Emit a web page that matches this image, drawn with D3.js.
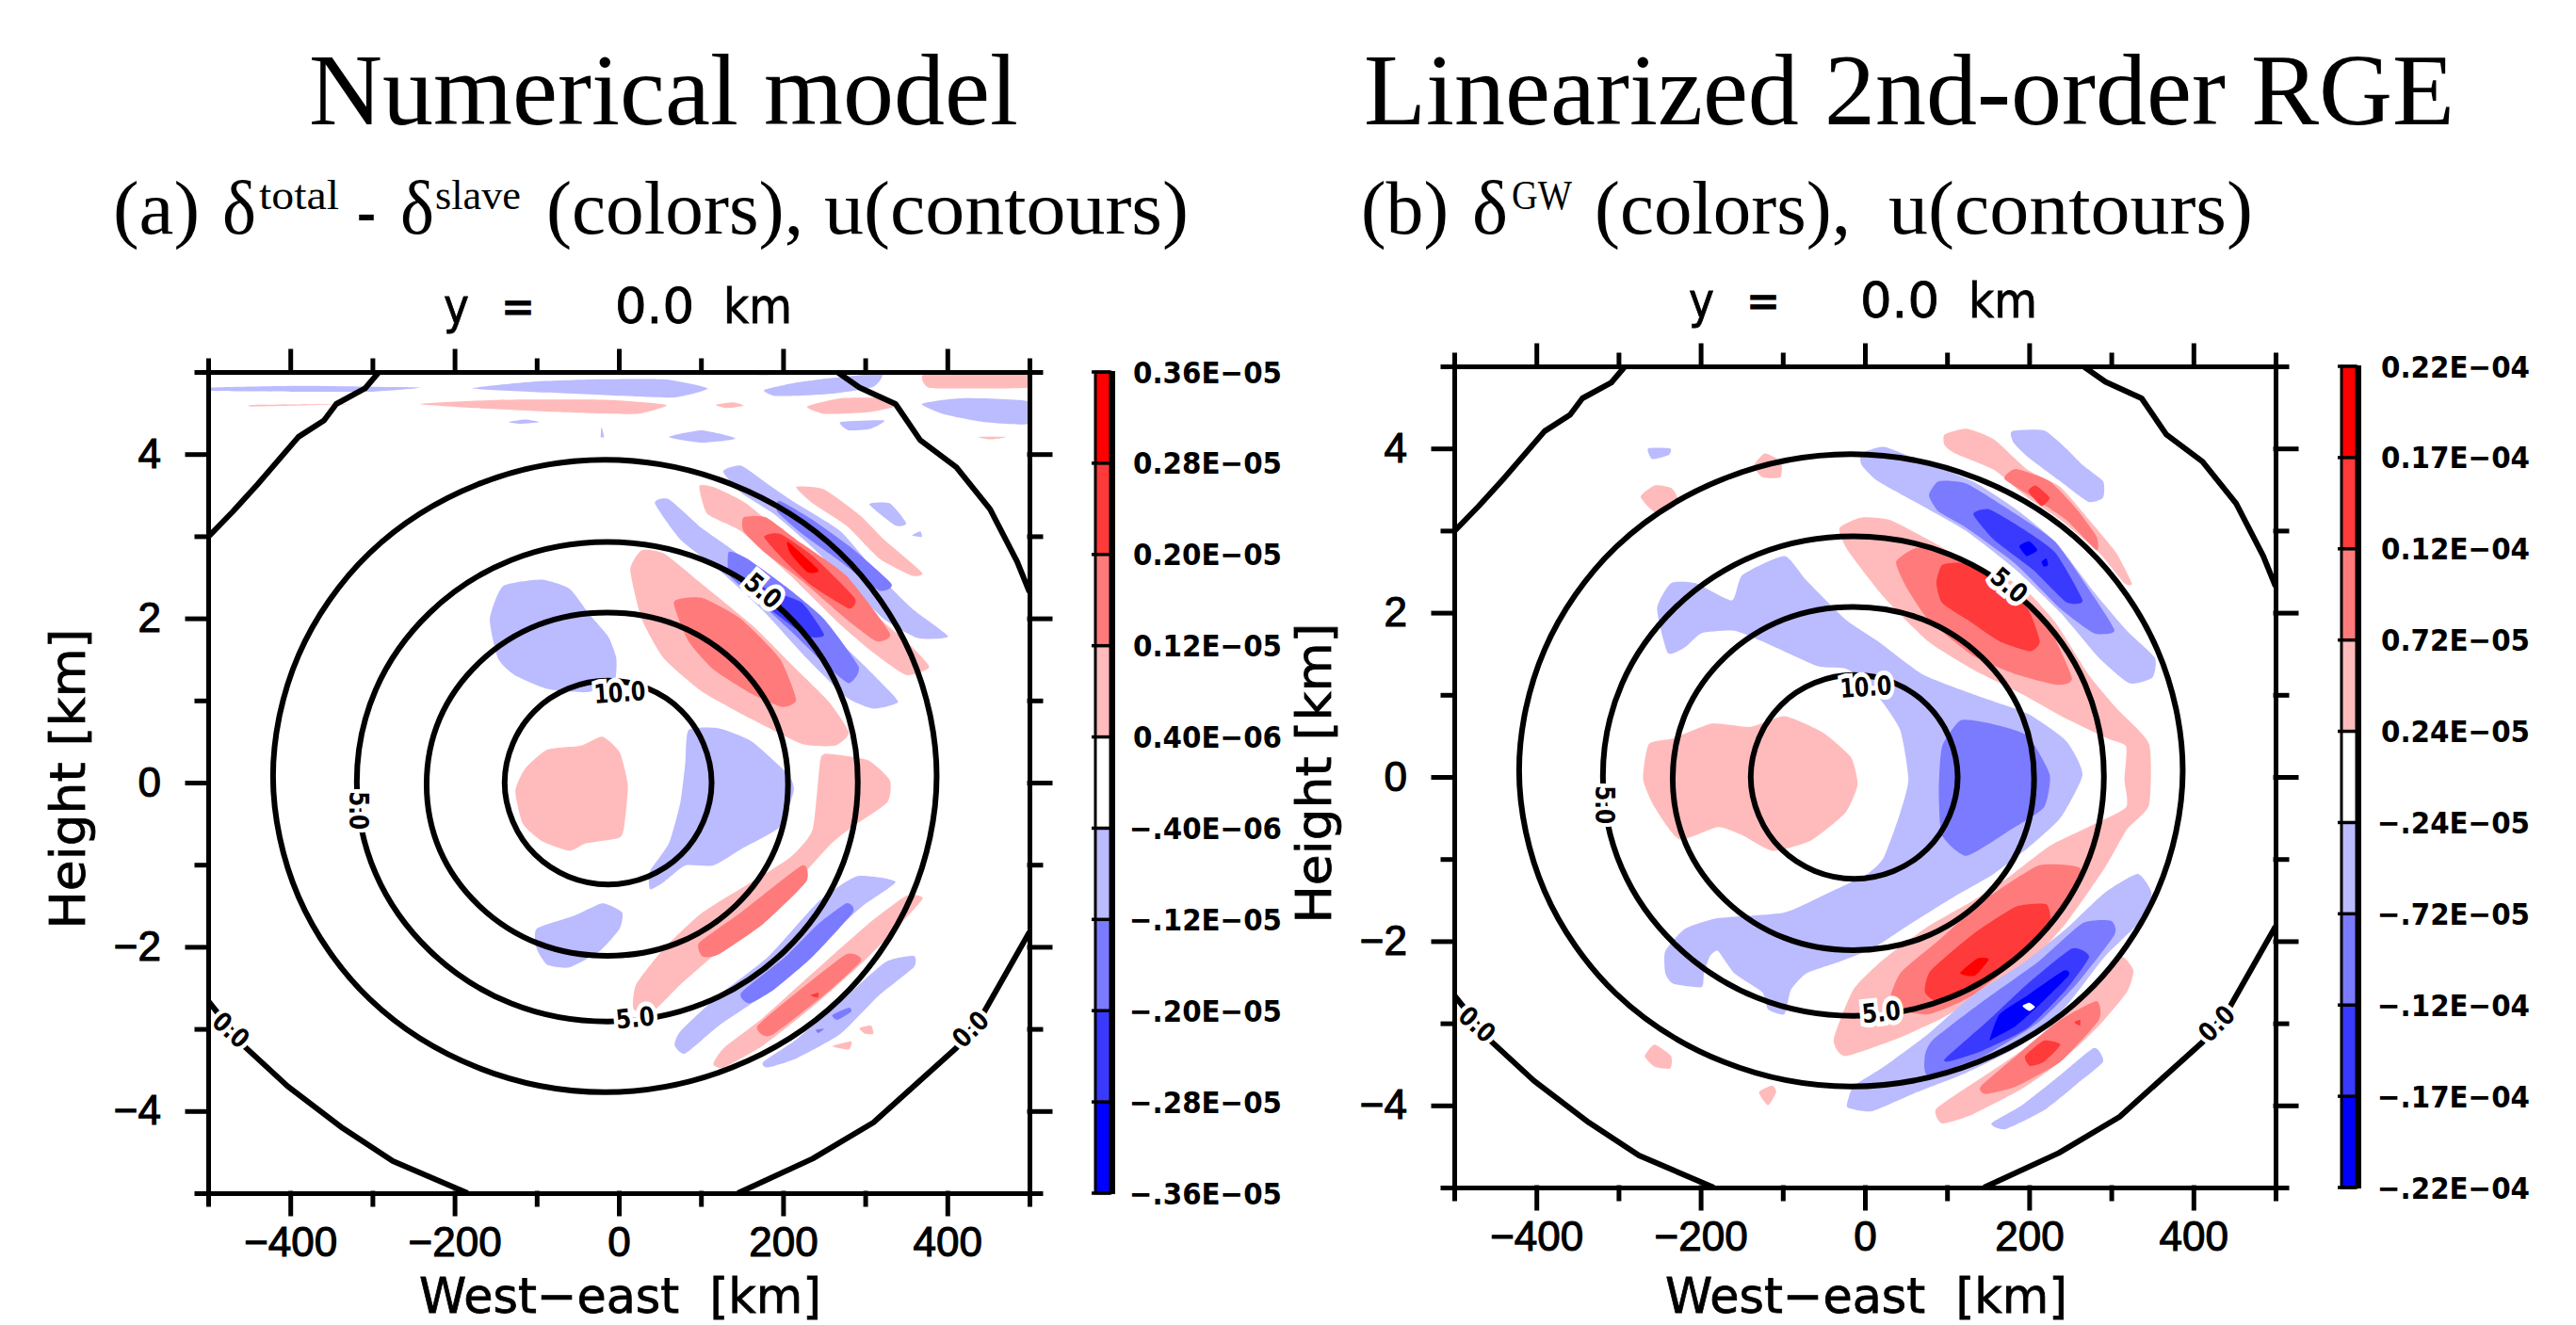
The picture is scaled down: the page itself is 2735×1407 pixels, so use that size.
<!DOCTYPE html>
<html><head><meta charset="utf-8"><style>html,body{margin:0;background:#fff}svg{display:block}</style>
<script src="https://cdn.jsdelivr.net/npm/d3@7"></script></head><body><div id="c"></div>
<script>
// ---- colour levels (top to bottom of the colour bars)
const bandIds=[4,3,2,1,0,-1,-2,-3,-4];
const bandColors=["#ff0000","#ff3a3a","#ff7b7b","#ffbbbb","#ffffff","#bbbbff","#7b7bff","#3a3aff","#0000ff"];
const ticksA=["0.36E\u221205","0.28E\u221205","0.20E\u221205","0.12E\u221205","0.40E\u221206","\u2212.40E\u221206","\u2212.12E\u221205","\u2212.20E\u221205","\u2212.28E\u221205","\u2212.36E\u221205"];
const ticksB=["0.22E\u221204","0.17E\u221204","0.12E\u221204","0.72E\u221205","0.24E\u221205","\u2212.24E\u221205","\u2212.72E\u221205","\u2212.12E\u221204","\u2212.17E\u221204","\u2212.22E\u221204"];
// ---- u contours in [km, km]
const u10=[[113,0],[103,.475],[76,.877],[35,1.146],[-13,1.24],[-61,1.146],[-102,.877],[-129,.475],[-139,0],[-129,-.475],[-102,-.877],[-61,-1.146],[-13,-1.24],[35,-1.146],[76,-.877],[103,-.475]];
const uInner=[[206,-.02],[190,.78],[142,1.46],[70,1.92],[-14,2.07],[-98,1.92],[-170,1.46],[-218,.78],[-234,-.02],[-218,-.82],[-170,-1.5],[-98,-1.96],[-14,-2.11],[70,-1.96],[142,-1.5],[190,-.82]];
const u5=[[291,.01],[268,1.13],[202,2.07],[103,2.71],[-14,2.93],[-131,2.71],[-230,2.07],[-296,1.13],[-319,.01],[-296,-1.11],[-230,-2.05],[-131,-2.69],[-14,-2.91],[103,-2.69],[202,-2.05],[268,-1.11]];
const uOuter=[[387,.08],[356,1.55],[269,2.8],[138,3.63],[-17,3.93],[-172,3.63],[-303,2.8],[-390,1.55],[-421,.08],[-390,-1.39],[-303,-2.64],[-172,-3.47],[-17,-3.77],[138,-3.47],[269,-2.64],[356,-1.39]];
const zeroTL=[[-500,2.99],[-470,3.3],[-440,3.63],[-390,4.21],[-359,4.41],[-344,4.61],[-309,4.8],[-292,5]];
const zeroTR=[[266,5],[293,4.81],[337,4.61],[367,4.17],[411,3.84],[452,3.33],[485,2.69],[500,2.32]];
const zeroBL=[[-500,-2.66],[-484,-2.86],[-454,-3.23],[-403,-3.7],[-336,-4.21],[-275,-4.61],[-184,-5]];
const zeroBR=[[145,-5],[236,-4.58],[310,-4.14],[411,-3.23],[445,-2.79],[500,-1.82]];
const contourLabels=["10.0","5.0","5.0","5.0","0.0","0.0"];
const contourLabelAt=[[1,1.1],[176,2.34],[-316,-.34],[20,-2.86],[-472,-3.01],[428,-3]];
const contourLabelAngle=[-4,40,90,-6,42,-45];
// ---- panel (a) shaded regions, [km, km], by level
const aP1=[
[[-443,4.6],[-320,4.61],[-443,4.58]],
[[-242,4.61],[-147,4.66],[-13,4.66],[58,4.6],[21,4.49],[-67,4.51],[-174,4.56]],
[[118,4.6],[139,4.63],[152,4.59],[132,4.56]],
[[229,4.58],[270,4.68],[327,4.68],[337,4.58],[304,4.51],[250,4.49]],
[[374,4.98],[499,4.98],[499,4.81],[418,4.8],[377,4.81]],
[[438,4.21],[472,4.21],[452,4.18]],
[[135,4.98],[216,4.98],[176,4.96]],
[[98,3.61],[115,3.6],[155,3.4],[216,2.89],[270,2.46],[323,1.95],[350,1.72],[378,1.41],[350,1.31],[310,1.58],[270,1.92],[209,2.52],[149,3.06],[108,3.27]],
[[216,3.6],[250,3.57],[293,3.26],[323,2.96],[369,2.56],[357,2.52],[317,2.73],[277,3.13],[236,3.4]],
[[14,2.59],[28,2.83],[55,2.79],[101,2.42],[162,1.92],[209,1.45],[256,.98],[280,.61],[263,.45],[223,.47],[162,.77],[101,1.11],[55,1.51],[28,1.99]],
[[-126,-.1],[-114,.17],[-87,.4],[-46,.45],[-20,.56],[1,.37],[11,-.03],[7,-.5],[1,-.67],[-40,-.74],[-60,-.83],[-94,-.71],[-117,-.5]],
[[18,-2.76],[21,-2.46],[55,-2.02],[102,-1.58],[162,-1.21],[209,-.91],[236,-.57],[246,.3],[263,.34],[304,.27],[330,.03],[327,-.24],[284,-.54],[256,-.77],[216,-1.21],[162,-1.72],[122,-2.05],[75,-2.46],[41,-2.79]],
[[115,-3.43],[128,-3.23],[176,-2.86],[236,-2.32],[304,-1.72],[350,-1.38],[370,-1.41],[343,-1.72],[297,-2.19],[236,-2.73],[176,-3.2],[128,-3.47]],
[[260,-3.21],[283,-3.15],[280,-3.25]],
[[293,-2.99],[307,-2.96],[310,-3.06],[300,-3.06]]];
const aP2=[
[[152,3.23],[179,3.23],[216,2.96],[277,2.52],[330,1.82],[314,1.72],[277,1.99],[223,2.46],[179,2.79],[152,3.06]],
[[67,2.2],[101,2.25],[149,1.99],[196,1.51],[216,1.01],[199,.92],[162,1.08],[115,1.38],[85,1.72]],
[[98,-1.95],[149,-1.58],[223,-1.01],[228,-1.21],[176,-1.72],[122,-2.09],[102,-2.12]],
[[169,-2.96],[216,-2.56],[277,-2.09],[295,-2.17],[250,-2.59],[189,-3.06],[176,-3.08]]];
const aP3=[
[[177,2.99],[196,3.03],[236,2.76],[287,2.25],[280,2.12],[236,2.39],[203,2.69]],
[[233,-2.59],[243,-2.56],[242,-2.62]]];
const aP4=[
[[206,2.93],[243,2.59],[230,2.56],[209,2.79]]];
const aN1=[
[[-497,4.81],[-390,4.83],[-300,4.82],[-240,4.81],[-300,4.76],[-390,4.76],[-497,4.77]],
[[-178,4.8],[-107,4.88],[-26,4.91],[55,4.91],[108,4.8],[68,4.69],[1,4.71],[-87,4.75]],
[[177,4.78],[216,4.87],[263,4.93],[320,4.98],[310,4.82],[263,4.74],[216,4.71],[189,4.71]],
[[369,4.61],[418,4.68],[499,4.64],[499,4.37],[445,4.39],[398,4.48]],
[[-134,4.39],[-114,4.42],[-97,4.39],[-120,4.37]],
[[270,4.39],[323,4.41],[307,4.31],[280,4.29]],
[[61,4.21],[101,4.29],[142,4.19],[101,4.14]],
[[-21,4.33],[-18,4.21],[-22,4.21]],
[[-157,1.99],[-141,2.39],[-94,2.47],[-60,2.36],[-36,2.05],[-13,1.78],[-3,1.51],[-6,1.21],[-40,1.1],[-87,1.14],[-127,1.31],[-147,1.51]],
[[127,3.79],[149,3.86],[182,3.63],[216,3.4],[270,3.06],[317,2.52],[357,2.12],[401,1.78],[364,1.76],[323,1.99],[290,2.32],[236,2.86],[189,3.27],[149,3.53]],
[[44,3.4],[61,3.45],[101,3.1],[139,2.83],[189,2.42],[236,2.02],[290,1.51],[320,1.21],[340,.98],[310,.9],[277,1.04],[229,1.51],[176,2.09],[122,2.59],[75,2.96]],
[[305,3.39],[330,3.4],[350,3.16],[337,3.13]],
[[357,3.01],[367,3.06],[369,2.99]],
[[85,.64],[122,.66],[162,.5],[206,.1],[213,-.1],[196,-.54],[149,-.81],[115,-1.01],[81,-1.01],[55,-1.21],[38,-1.3],[38,-1.08],[61,-.74],[75,-.24],[81,.24]],
[[-100,-1.78],[-54,-1.62],[-20,-1.47],[4,-1.58],[1,-1.78],[-23,-2.05],[-60,-2.25],[-87,-2.22],[-100,-2.02]],
[[68,-3.2],[75,-3.03],[122,-2.59],[182,-2.12],[243,-1.45],[290,-1.14],[337,-1.21],[296,-1.51],[236,-2.05],[176,-2.59],[122,-2.96],[81,-3.3]],
[[176,-3.4],[216,-3.13],[263,-2.73],[324,-2.19],[359,-2.11],[359,-2.25],[317,-2.59],[270,-3.06],[216,-3.36],[181,-3.47]]];
const aN2=[
[[196,3.43],[236,3.2],[283,2.86],[332,2.42],[317,2.34],[270,2.69],[223,3.03],[193,3.3]],
[[134,2.81],[156,2.73],[203,2.39],[250,1.99],[292,1.41],[280,1.21],[250,1.45],[209,1.85],[169,2.22],[135,2.52]],
[[149,-2.56],[203,-2.12],[243,-1.72],[277,-1.47],[285,-1.58],[236,-2.12],[189,-2.52],[159,-2.69]],
[[260,-2.83],[280,-2.74],[283,-2.79],[266,-2.89]],
[[240,-3.01],[250,-3],[243,-3.05]]];
const aN3=[
[[149,2.49],[189,2.32],[223,2.19],[250,1.8],[229,1.78],[192,2.05],[155,2.32]]];
const aN4=[];
// ---- panel (b) shaded regions
const bP1=[
[[-273,3.41],[-256,3.55],[-236,3.52],[-229,3.39],[-253,3.21]],
[[-135,3.79],[-122,3.94],[-102,3.84],[-103,3.65],[-125,3.65]],
[[97,4.17],[124,4.24],[157,4.11],[198,3.74],[238,3.53],[279,3.06],[306,2.73],[325,2.36],[316,2.36],[285,2.73],[238,3.13],[198,3.4],[157,3.74],[110,3.94],[97,4.04]],
[[-31,3.03],[-4,3.16],[30,3.13],[77,2.89],[137,2.56],[191,2.32],[232,1.88],[272,1.25],[306,.84],[346,.4],[346,-.34],[319,-.64],[292,-1.11],[245,-1.78],[191,-2.36],[137,-2.69],[90,-2.96],[36,-3.2],[-24,-3.4],[-38,-3.2],[-14,-2.59],[23,-2.22],[77,-1.82],[131,-1.51],[171,-1.25],[225,-.84],[272,-.61],[318,-.37],[316,-.03],[318,.37],[295,.47],[245,.71],[191,1.01],[131,1.31],[77,1.65],[23,2.19],[-21,2.76]],
[[-270,-.03],[-263,.4],[-233,.47],[-186,.65],[-139,.61],[-98,.74],[-51,.54],[-17,.24],[-9,-.1],[-24,-.44],[-65,-.77],[-112,-.9],[-149,-.71],[-179,-.61],[-226,-.76],[-256,-.37]],
[[-268,-3.4],[-256,-3.26],[-236,-3.4],[-237,-3.55],[-256,-3.53]],
[[-129,-3.84],[-113,-3.76],[-108,-3.84],[-118,-4]],
[[87,-4.04],[141,-3.67],[191,-3.33],[238,-2.93],[279,-2.52],[312,-2.19],[327,-2.36],[319,-2.62],[285,-3.03],[238,-3.47],[191,-3.8],[131,-4.11],[94,-4.22]]];
const bP2=[
[[170,3.63],[184,3.75],[225,3.6],[258,3.26],[282,2.93],[282,2.76],[245,3.13],[205,3.4]],
[[38,2.62],[63,2.79],[104,2.73],[157,2.39],[218,1.92],[252,1.21],[235,1.12],[184,1.25],[131,1.48],[77,1.92],[50,2.32]],
[[30,-2.79],[43,-2.39],[90,-1.99],[144,-1.51],[211,-1.08],[262,-1.11],[245,-1.51],[198,-2.12],[131,-2.66],[77,-2.89]],
[[141,-3.77],[184,-3.4],[238,-2.96],[282,-2.73],[285,-2.96],[238,-3.47],[184,-3.77],[147,-3.86]]];
const bP3=[
[[199,3.48],[208,3.55],[225,3.4],[215,3.3]],
[[87,2.36],[94,2.58],[120,2.6],[157,2.39],[198,2.05],[213,1.65],[201,1.53],[164,1.65],[124,1.92],[94,2.12]],
[[73,-2.62],[80,-2.36],[131,-1.92],[184,-1.58],[221,-1.55],[225,-1.78],[198,-2.09],[144,-2.46],[90,-2.73]],
[[195,-3.4],[218,-3.21],[238,-3.26],[218,-3.47],[201,-3.52]],
[[255,-2.99],[262,-2.96],[262,-3.03]]];
const bP4=[
[[116,-2.39],[137,-2.21],[151,-2.22],[134,-2.42]]];
const bN1=[
[[-264,4],[-237,4],[-239,3.92],[-259,3.87]],
[[179,4.21],[218,4.22],[245,4],[265,3.8],[290,3.6],[290,3.4],[272,3.35],[238,3.6],[198,3.9],[181,4.07]],
[[-4,3.94],[23,4.02],[63,3.87],[131,3.6],[184,3.26],[232,2.86],[279,2.25],[319,1.78],[353,1.45],[350,1.21],[322,1.14],[285,1.45],[238,2],[184,2.52],[124,2.99],[70,3.3],[16,3.6],[-4,3.8]],
[[-253,2.05],[-236,2.36],[-206,2.36],[-162,2.15],[-149,2.46],[-98,2.69],[-71,2.39],[-24,1.92],[16,1.65],[70,1.25],[131,1.01],[198,.77],[245,.44],[265,.03],[238,-.5],[198,-.87],[157,-1.18],[110,-1.45],[57,-1.78],[9,-2.09],[-31,-2.25],[-71,-2.39],[-90,-2.59],[-98,-2.89],[-118,-2.83],[-125,-2.62],[-159,-2.39],[-179,-2.12],[-189,-2.19],[-196,-2.39],[-199,-2.56],[-233,-2.52],[-243,-2.39],[-243,-2.12],[-219,-1.85],[-179,-1.72],[-98,-1.65],[-44,-1.41],[3,-1.18],[23,-.98],[43,-.44],[53,-.03],[43,.57],[16,.98],[-21,1.31],[-58,1.35],[-125,1.65],[-159,1.78],[-199,1.75],[-219,1.58],[-240,1.51]],
[[-22,-4],[-14,-3.77],[23,-3.53],[77,-3.13],[131,-2.66],[191,-2.28],[245,-1.85],[292,-1.41],[332,-1.18],[349,-1.41],[339,-1.72],[292,-2.19],[245,-2.79],[191,-3.26],[124,-3.6],[63,-3.84],[9,-4.07],[-17,-4.04]],
[[154,-4.22],[191,-4],[238,-3.63],[279,-3.3],[290,-3.47],[258,-3.74],[218,-4.06],[171,-4.29]]];
const bN2=[
[[78,3.43],[90,3.6],[124,3.57],[184,3.2],[232,2.86],[279,2.19],[304,1.78],[279,1.75],[238,2.05],[184,2.59],[124,3.03],[90,3.23]],
[[94,.37],[117,.69],[157,.64],[198,.5],[225,.03],[218,-.37],[178,-.64],[124,-.96],[94,-.71],[90,-.17]],
[[73,-3.4],[83,-3.2],[144,-2.73],[211,-2.25],[265,-1.78],[299,-1.75],[304,-1.92],[258,-2.52],[211,-2.99],[144,-3.4],[77,-3.63]]];
const bN3=[
[[132,3.2],[151,3.26],[191,3.03],[232,2.73],[265,2.15],[245,2.13],[205,2.52],[157,2.89]],
[[98,-3.43],[151,-2.96],[198,-2.52],[252,-2.09],[273,-2.19],[245,-2.59],[198,-3.06],[144,-3.33],[104,-3.46]]];
const bN4=[
[[188,2.81],[200,2.87],[210,2.76],[197,2.69]],
[[215,2.62],[221,2.66],[223,2.58],[218,2.56]],
[[152,-3.2],[164,-2.89],[198,-2.66],[242,-2.36],[248,-2.42],[211,-2.79],[184,-3.03],[157,-3.18]]];
const bSpot=[[[192,-2.79],[200,-2.75],[207,-2.8],[200,-2.85]]];
// ---- axes
const xMajor=[-400,-200,0,200,400], xMinor=[-500,-300,-100,100,300,500];
const yMajor=[-4,-2,0,2,4], yMinor=[-5,-3,-1,1,3,5];

const color=d3.scaleOrdinal(bandIds,bandColors);
const svg=d3.select("#c").append("svg").attr("width",2735).attr("height",1407);
const SERIF="'Liberation Serif','Times New Roman',serif", SANS="'DejaVu Sans',sans-serif", TICK="'Liberation Sans',Arial,sans-serif";

function seg(list){ // [text,x,width,baseline,size,weight,family,stroke]
  svg.append("g").selectAll("text").data(list).join("text")
    .attr("x",d=>d[1]).attr("y",d=>d[3]).attr("font-family",d=>d[6]||SERIF).attr("font-size",d=>d[4])
    .attr("font-weight",d=>d[5]||"normal").attr("textLength",d=>d[2]).attr("lengthAdjust","spacingAndGlyphs")
    .attr("stroke","#000").attr("stroke-width",d=>d[7]||0)
    .attr("xml:space","preserve").style("white-space","pre").attr("fill","#000").text(d=>d[0]);
}
seg([["Numerical model",328,753,132,108],["Linearized 2nd-order RGE",1448,1158,132,108],
 ["(a)",120,92,248,80],["\u03b4",236,36,248,80],["total",275,85,222,44],["-",379,20,248,72,"bold"],["\u03b4",425,36,248,80],["slave",462,91,222,44],
 ["(colors),",580,273,248,80],["u(contours)",875,387,248,80],
 ["(b)",1445,93,248,80],["\u03b4",1563,38,248,80],["GW",1605,64,222,44],["(colors),",1693,272,248,80],["u(contours)",2005,387,248,80],
 ["y",471,27,343,52,"normal",SANS,.8],["=",532,36,343,52,"normal",SANS,.8],["0.0",653,84,343,52,"normal",SANS,.8],["km",768,73,343,52,"normal",SANS,.8],
 ["y",1793,27,337,52,"normal",SANS,.8],["=",1854,36,337,52,"normal",SANS,.8],["0.0",1975,84,337,52,"normal",SANS,.8],["km",2090,73,337,52,"normal",SANS,.8],
 ["West\u2212east  [km]",445,427,1394,52,"normal",SANS,.8],["West\u2212east  [km]",1768,427,1394,52,"normal",SANS,.8]]);

function panel(left,top,size,levels,extra,ticks,barX,labelEnd,idx){
  const x=d3.scaleLinear([-500,500],[left,left+size]);
  const y=d3.scaleLinear([-5,5],[top+size,top]);
  const id="clip"+idx;
  svg.append("clipPath").attr("id",id).append("rect").attr("x",left).attr("y",top).attr("width",size).attr("height",size);
  const root=svg.append("g");
  const area=root.append("g").attr("clip-path",`url(#${id})`);
  const closed=d3.line().x(d=>x(d[0])).y(d=>y(d[1])).curve(d3.curveCardinalClosed.tension(.45));
  const round=d3.line().x(d=>x(d[0])).y(d=>y(d[1])).curve(d3.curveCatmullRomClosed.alpha(.5));
  const open=d3.line().x(d=>x(d[0])).y(d=>y(d[1]));
  levels.forEach(([lev,polys])=>{
    area.append("g").selectAll("path").data(polys).join("path").attr("d",closed).attr("fill",color(lev));
  });
  area.append("g").selectAll("path").data(extra).join("path").attr("d",closed).attr("fill",color(0));
  const lines=area.append("g").attr("fill","none").attr("stroke","#000").attr("stroke-width",6).attr("stroke-linejoin","round");
  lines.selectAll("path.c").data([u10,uInner,u5,uOuter]).join("path").attr("class","c").attr("d",round);
  lines.selectAll("path.z").data([zeroTL,zeroTR,zeroBL,zeroBR]).join("path").attr("class","z").attr("d",open);
  root.append("g").selectAll("text").data(contourLabels).join("text")
    .attr("transform",(d,i)=>`translate(${x(contourLabelAt[i][0])},${y(contourLabelAt[i][1])}) rotate(${contourLabelAngle[i]})`)
    .attr("text-anchor","middle").attr("dy",".36em").attr("font-family",SANS).attr("font-weight","bold").attr("font-size",28)
    .attr("textLength",d=>d.length>3?55:41).attr("lengthAdjust","spacingAndGlyphs")
    .attr("stroke","#fff").attr("stroke-width",10).attr("paint-order","stroke").attr("fill","#000").text(d=>d);
  function style(g){g.selectAll("path,line").attr("stroke","#000").attr("stroke-width",5).attr("stroke-linecap","square");
    g.selectAll("text").attr("font-family",TICK).attr("font-size",44).attr("fill","#000").attr("stroke","#000").attr("stroke-width",1.1);}
  const B=`translate(0,${top+size})`,T=`translate(0,${top})`,L=`translate(${left},0)`,R=`translate(${left+size},0)`;
  root.append("g").attr("transform",B).call(d3.axisBottom(x).tickValues(xMajor).tickSize(22).tickPadding(14).tickSizeOuter(0)).call(style);
  root.append("g").attr("transform",B).call(d3.axisBottom(x).tickValues(xMinor).tickSize(12).tickSizeOuter(0).tickFormat("")).call(style);
  root.append("g").attr("transform",T).call(d3.axisTop(x).tickValues(xMajor).tickSize(22).tickSizeOuter(0).tickFormat("")).call(style);
  root.append("g").attr("transform",T).call(d3.axisTop(x).tickValues(xMinor).tickSize(12).tickSizeOuter(0).tickFormat("")).call(style);
  root.append("g").attr("transform",L).call(d3.axisLeft(y).tickValues(yMajor).tickSize(22).tickPadding(28).tickSizeOuter(0)).call(style);
  root.append("g").attr("transform",L).call(d3.axisLeft(y).tickValues(yMinor).tickSize(12).tickSizeOuter(0).tickFormat("")).call(style);
  root.append("g").attr("transform",R).call(d3.axisRight(y).tickValues(yMajor).tickSize(22).tickSizeOuter(0).tickFormat("")).call(style);
  root.append("g").attr("transform",R).call(d3.axisRight(y).tickValues(yMinor).tickSize(12).tickSizeOuter(0).tickFormat("")).call(style);
  root.append("text").attr("transform",`translate(${left-131},${top+size/2-4}) rotate(-90)`).attr("text-anchor","middle")
    .attr("font-family",SANS).attr("font-size",52).attr("stroke","#000").attr("stroke-width",.8)
    .attr("textLength",319).attr("lengthAdjust","spacingAndGlyphs").text("Height [km]");
  // colour bar
  const by=d3.scalePoint(d3.range(ticks.length),[top,top+size]);
  const bar=root.append("g");
  bar.selectAll("rect").data(bandIds).join("rect").attr("x",barX).attr("width",16)
    .attr("y",(d,i)=>by(i)).attr("height",by(1)-by(0)).attr("fill",d=>color(d));
  bar.selectAll("line").data(ticks).join("line").attr("x1",barX-4).attr("x2",barX+16)
    .attr("y1",(d,i)=>by(i)).attr("y2",(d,i)=>by(i)).attr("stroke","#000").attr("stroke-width",3.5);
  bar.append("rect").attr("x",barX).attr("y",top).attr("width",16).attr("height",size).attr("fill","none").attr("stroke","#000").attr("stroke-width",3);
  bar.append("rect").attr("x",barX+16).attr("y",top-1).attr("width",5).attr("height",size+2).attr("fill","#000");
  bar.selectAll("text").data(ticks).join("text").attr("x",labelEnd).attr("y",(d,i)=>by(i)).attr("dy",".36em")
    .attr("text-anchor","end").attr("font-family",SANS).attr("font-weight","bold").attr("font-size",32)
    .attr("textLength",d=>d[0]==="0"?158:162).attr("lengthAdjust","spacingAndGlyphs").text(d=>d);
}
panel(221,395,872,[[1,aP1],[-1,aN1],[2,aP2],[-2,aN2],[3,aP3],[-3,aN3],[4,aP4],[-4,aN4]],[],ticksA,1163,1361,"a");
panel(1544,389,872,[[1,bP1],[-1,bN1],[2,bP2],[-2,bN2],[3,bP3],[-3,bN3],[4,bP4],[-4,bN4]],bSpot,ticksB,2486,2686,"b");
</script></body></html>
